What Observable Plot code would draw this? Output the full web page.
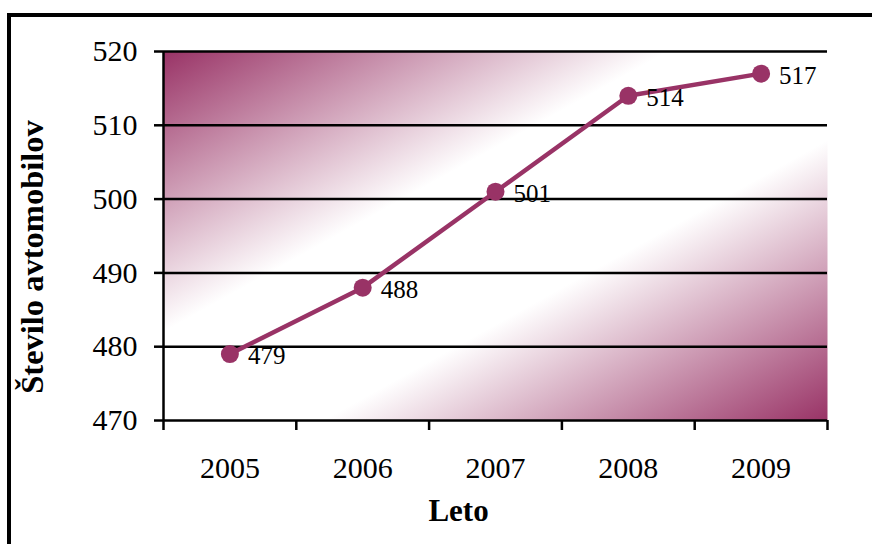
<!DOCTYPE html>
<html>
<head>
<meta charset="utf-8">
<script src="https://cdn.jsdelivr.net/npm/d3@7"></script>
<script src="https://cdn.jsdelivr.net/npm/@observablehq/plot@0.6"></script>
<style>
  html, body { margin: 0; padding: 0; background: white; overflow: hidden; width: 872px; height: 544px; }
  #wrap { position: relative; width: 872px; height: 544px; }
  #border { position: absolute; left: 7px; top: 13px; width: 900px; height: 600px; border: 4px solid #000; pointer-events: none; z-index: 2; }
  #chart { position: absolute; left: 0; top: 0; z-index: 1; }
</style>
</head>
<body>
<div id="wrap"><div id="border"></div><div id="chart"></div></div>
<script>
const years = [2005, 2006, 2007, 2008, 2009];
const cars = [479, 488, 501, 514, 517];
const yTicks = [470, 480, 490, 500, 510, 520];
const gridValues = [480, 490, 500, 510, 520];
const bandEdges = [2004.5, 2005.5, 2006.5, 2007.5, 2008.5, 2009.5];
const xTitle = "Leto";
const yTitle = "Število avtomobilov";

const data = years.map((y, i) => ({year: y, value: cars[i]}));
const plum = "#993366";
const font = "'Liberation Serif', 'Times New Roman', serif";

const chart = Plot.plot({
  width: 872,
  height: 544,
  marginLeft: 163,
  marginRight: 45,
  marginTop: 51,
  marginBottom: 124,
  style: {fontFamily: font, fontSize: "30px", color: "#000", background: "transparent", overflow: "visible"},
  x: {domain: [bandEdges[0], bandEdges[bandEdges.length - 1]], label: null},
  y: {domain: [yTicks[0], yTicks[yTicks.length - 1]], label: null},
  marks: [
    Plot.frame({fill: "url(#bgGrad)", stroke: null}),
    Plot.ruleY(gridValues, {stroke: "#000", strokeWidth: 2.5}),
    Plot.ruleY([yTicks[0]], {stroke: "#000", strokeWidth: 2.5}),
    Plot.ruleX([bandEdges[0]], {stroke: "#000", strokeWidth: 2.5}),
    Plot.axisY({ticks: yTicks, tickSize: 9, tickPadding: 17, strokeWidth: 2.5, fontSize: 30, tickFormat: d => String(d), label: null}),
    Plot.axisX({ticks: bandEdges, tickSize: 10, strokeWidth: 2.5, tickFormat: () => "", label: null}),
    Plot.axisX({ticks: years, tickSize: 0, tickPadding: 36, fontSize: 30, tickFormat: d => String(d), label: null}),
    Plot.line(data, {x: "year", y: "value", stroke: plum, strokeWidth: 4.5}),
    Plot.dot(data, {x: "year", y: "value", r: 9, fill: plum, stroke: null}),
    Plot.text(data, {x: "year", y: "value", text: d => String(d.value), dx: 18, dy: 2, textAnchor: "start", fontSize: 25, fill: "#000"}),
    Plot.text([xTitle], {frameAnchor: "bottom", text: d => d, dx: -37, dy: 78, fontSize: 31, fontWeight: "bold", textAnchor: "middle", lineAnchor: "top", fill: "#000"}),
    Plot.text([yTitle], {frameAnchor: "left", text: d => d, rotate: -90, dx: -131, dy: 21, fontSize: 32.5, fontWeight: "bold", textAnchor: "middle", lineAnchor: "middle", fill: "#000"})
  ]
});

const defs = d3.select(chart).insert("defs", ":first-child");
const grad = defs.append("linearGradient")
  .attr("id", "bgGrad")
  .attr("x1", 0).attr("y1", 0).attr("x2", 1).attr("y2", 1);
grad.append("stop").attr("offset", 0).attr("stop-color", plum);
grad.append("stop").attr("offset", 0.38).attr("stop-color", "#ffffff");
grad.append("stop").attr("offset", 0.62).attr("stop-color", "#ffffff");
grad.append("stop").attr("offset", 1).attr("stop-color", plum);

document.getElementById("chart").appendChild(chart);
</script>
</body>
</html>
